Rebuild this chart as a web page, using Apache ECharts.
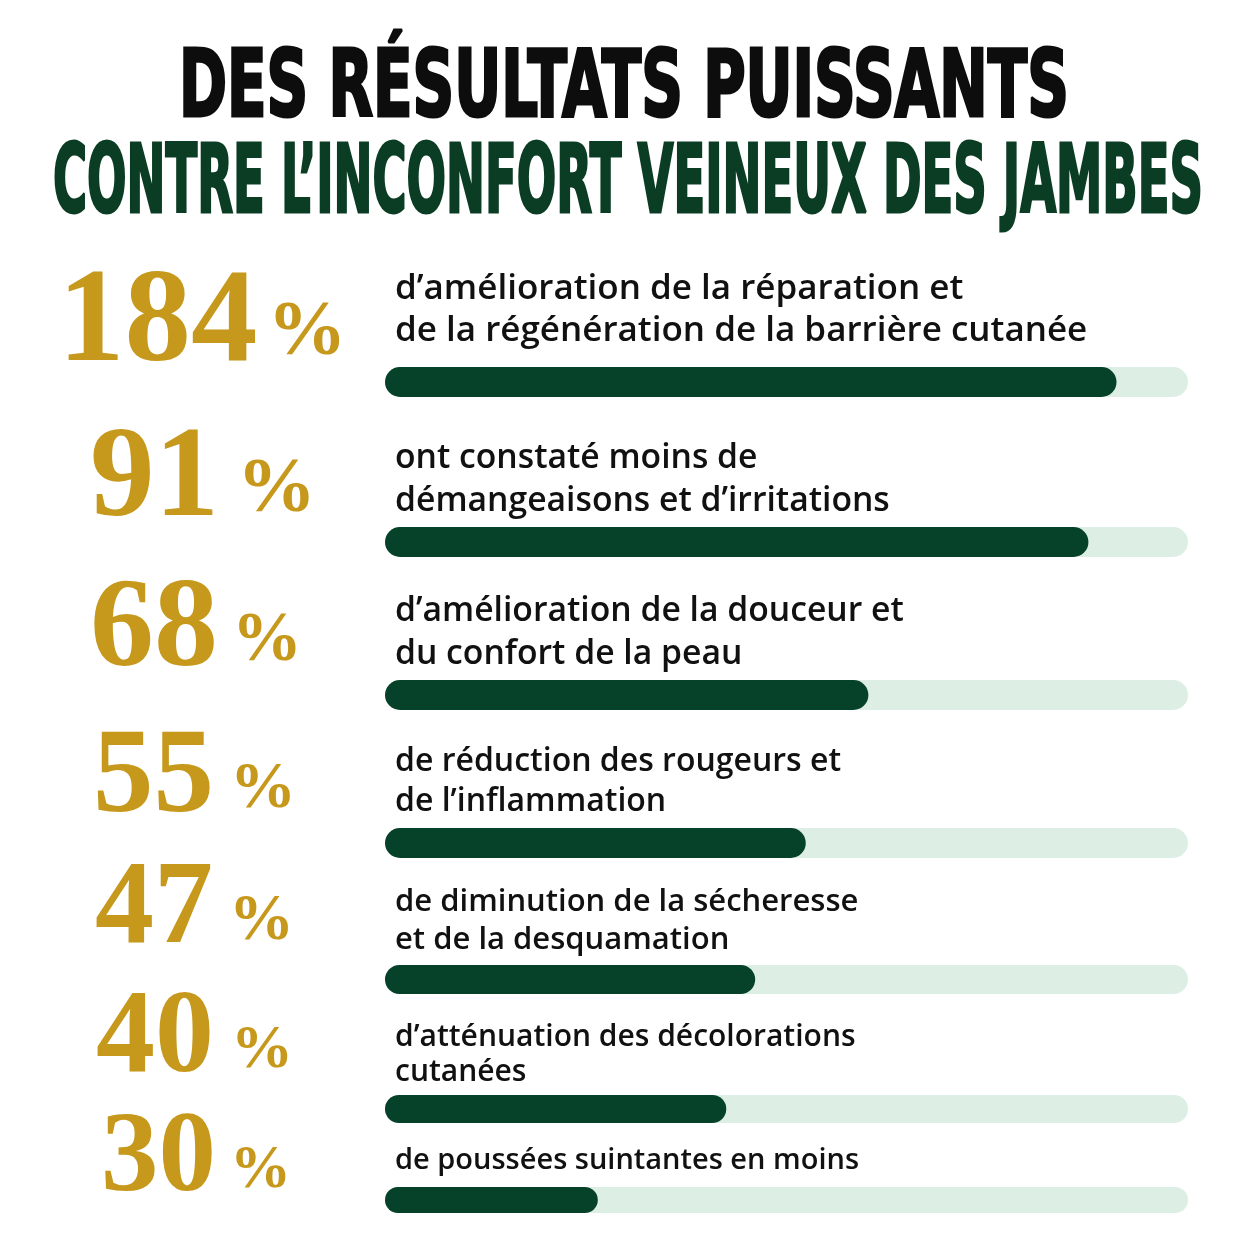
<!DOCTYPE html>
<html>
<head>
<meta charset="utf-8">
<script src="https://cdn.jsdelivr.net/npm/echarts@6/dist/echarts.min.js"></script>
<style>
html, body { margin: 0; padding: 0; background: #ffffff; }
#chart { width: 1254px; height: 1254px; }
</style>
</head>
<body>
<div id="chart"></div>
<script>
// chart data
var titleLines = ['DES RÉSULTATS PUISSANTS', 'CONTRE L’INCONFORT VEINEUX DES JAMBES'];
var percentages = ['184', '91', '68', '55', '47', '40', '30'];
var descriptions = [
    'd’amélioration de la réparation et\nde la régénération de la barrière cutanée',
    'ont constaté moins de\ndémangeaisons et d’irritations',
    'd’amélioration de la douceur et\ndu confort de la peau',
    'de réduction des rougeurs et\nde l’inflammation',
    'de diminution de la sécheresse\net de la desquamation',
    'd’atténuation des décolorations\ncutanées',
    'de poussées suintantes en moins'
];
var barFill = [91.1, 87.6, 60.2, 52.4, 46.1, 42.5, 26.5];
var barMax = 100;

// layout per row (pixels)
var barTop = [367, 527, 680, 828, 965, 1095, 1187];
var barHeight = [30, 30, 30, 30, 29, 28, 26];
var numLeft = [58, 90, 90, 93, 95, 96, 101];
var numCenterY = [315, 471, 622, 770, 902, 1031, 1151];
var numSize = [133, 129, 128, 121, 118, 118, 115];
var pctSize = [79, 79, 70, 66, 65, 62, 61];
var pctGap = [10, 18, 14, 16, 16, 17, 14];
var pctDrop = [5, 3, 5, 3, 2, 3, 2];
var descBaseline = [340, 510, 663, 810, 948, 1080, 1168];
var descSize = [35, 33.7, 33.7, 32, 31, 30, 29];
var descLine = [42, 43, 43, 40, 38, 35, 35];

var GOLD = '#C6981B';
var DARK = '#064129';
var TRACK = '#DDEEE4';
var trackLeft = 385, trackWidth = 803;

var measureCtx = document.createElement('canvas').getContext('2d');
function fitScale(text, font, target) {
    measureCtx.font = font;
    return target / measureCtx.measureText(text).width;
}

var titleFont1 = 'bold 92px "DejaVu Sans Condensed", "DejaVu Sans", sans-serif';
var titleFont2 = 'bold 95px "DejaVu Sans Condensed", "DejaVu Sans", sans-serif';

var grids = [], xAxes = [], yAxes = [], series = [];
for (var i = 0; i < percentages.length; i++) {
    var h = barHeight[i];
    grids.push({ left: trackLeft, width: trackWidth, top: barTop[i], height: h });
    xAxes.push({ type: 'value', gridIndex: i, min: 0, max: barMax, show: false });
    yAxes.push({ type: 'category', gridIndex: i, data: [percentages[i] + ' %'], show: false });

    var F = numSize[i], P = pctSize[i];
    // drop the % sign so its foot sits just above the digits' baseline
    var shift = 0.26 * F - pctDrop[i] - 0.27 * P;
    var pPad = shift >= 0 ? [2 * shift, 0, 0, 0] : [0, 0, -2 * shift, 0];
    series.push({
        type: 'bar', name: 'track' + i, xAxisIndex: i, yAxisIndex: i,
        data: [barMax], barWidth: h, barGap: '-100%', silent: true, z: 1,
        itemStyle: { color: TRACK, borderRadius: h / 2 },
        label: {
            show: true,
            position: [numLeft[i] - trackLeft, numCenterY[i] + 0.08 * F - barTop[i]],
            align: 'left', verticalAlign: 'middle',
            formatter: '{n|' + percentages[i] + '}{g|}{p|%}',
            rich: {
                n: { fontFamily: '"Liberation Serif", serif', fontWeight: 'bold', fontSize: F, lineHeight: F, color: GOLD, verticalAlign: 'middle' },
                g: { width: pctGap[i], lineHeight: 10 },
                p: { fontFamily: '"Liberation Serif", serif', fontWeight: 'bold', fontSize: P, lineHeight: P, color: GOLD, verticalAlign: 'middle', padding: pPad }
            }
        }
    });

    var S = descSize[i], L = descLine[i];
    var boxBottom = descBaseline[i] + L / 2 - 0.25 * S;
    series.push({
        type: 'bar', name: 'fill' + i, xAxisIndex: i, yAxisIndex: i,
        data: [barFill[i]], barWidth: h, barGap: '-100%', silent: true, z: 2,
        itemStyle: { color: DARK, borderRadius: h / 2 },
        label: {
            show: true,
            position: [10, boxBottom - barTop[i]],
            align: 'left', verticalAlign: 'bottom',
            formatter: descriptions[i],
            fontFamily: '"Open Sans", "Noto Sans", sans-serif',
            fontWeight: 600,
            fontSize: S, lineHeight: L, color: '#111111'
        }
    });
}

var chart = echarts.init(document.getElementById('chart'));
chart.setOption({
    backgroundColor: '#ffffff',
    animation: false,
    grid: grids,
    xAxis: xAxes,
    yAxis: yAxes,
    series: series,
    graphic: [
        {
            type: 'text', x: 624, y: 92,
            scaleX: fitScale(titleLines[0], titleFont1, 890),
            style: { text: titleLines[0], font: titleFont1, fill: '#0d0d0d', stroke: '#0d0d0d', lineWidth: 3, align: 'center', verticalAlign: 'middle' }
        },
        {
            type: 'text', x: 628, y: 187,
            scaleX: fitScale(titleLines[1], titleFont2, 1150),
            style: { text: titleLines[1], font: titleFont2, fill: '#0b3d24', stroke: '#0b3d24', lineWidth: 3, align: 'center', verticalAlign: 'middle' }
        }
    ]
});
</script>
</body>
</html>
